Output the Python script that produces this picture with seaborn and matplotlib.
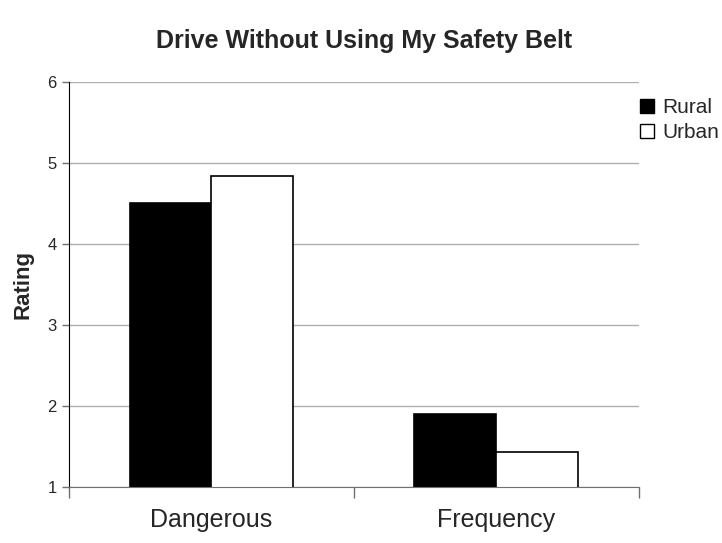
import matplotlib
matplotlib.use("Agg")
import matplotlib.pyplot as plt
import pandas as pd
import seaborn as sns
from matplotlib.patches import Patch

# values
categories = ["Dangerous", "Frequency"]
groups = ["Rural", "Urban"]
rural = [4.50, 1.90]
urban = [4.84, 1.43]
y_ticks = [1, 2, 3, 4, 5, 6]

df = pd.DataFrame({
    "category": categories * 2,
    "group": [groups[0]] * 2 + [groups[1]] * 2,
    "rating": rural + urban,
})

sns.set_style("white")
plt.rcParams["font.family"] = ["Liberation Sans", "DejaVu Sans"]

fig = plt.figure(figsize=(7.22, 5.43), dpi=100)
ax = fig.add_axes([0.0956, 0.104, 0.789, 0.745])

sns.barplot(data=df, x="category", y="rating", hue="group",
            palette={"Rural": "black", "Urban": "white"},
            edgecolor="black", linewidth=1.2, width=0.575, ax=ax)
ax.set_ylim(1, 6)
ax.set_xlim(-0.5, 1.5)
ax.set_yticks(y_ticks)
ax.yaxis.grid(True, color="#b0b0b0", linewidth=1)
ax.set_axisbelow(True)

for side in ["top", "right"]:
    ax.spines[side].set_visible(False)
ax.spines["left"].set_color("black")
ax.spines["bottom"].set_color("#707070")

ax.tick_params(axis="y", which="major", left=True, length=5, width=1,
               color="#707070", labelsize=12, pad=4)
ax.tick_params(axis="x", which="major", bottom=False, labelsize=18, pad=12)
ax.set_xticks([-0.5, 0.5, 1.5], minor=True)
ax.tick_params(axis="x", which="minor", bottom=True, length=8, width=1,
               color="#707070")

ax.set_xlabel("")
ax.set_ylabel("Rating", fontsize=16, fontweight="bold", labelpad=10)

ax.get_legend().remove()
handles = [Patch(facecolor="black", edgecolor="black", label="Rural"),
           Patch(facecolor="white", edgecolor="black", label="Urban")]
fig.legend(handles=handles, loc="upper left", bbox_to_anchor=(0.875, 0.835),
           frameon=False, fontsize=15, handlelength=0.65, handleheight=0.65,
           handletextpad=0.4, labelspacing=0.3, borderaxespad=0)

fig.suptitle("Drive Without Using My Safety Belt", x=0.504, y=0.924,
             va="center", fontsize=18, fontweight="bold")

fig.savefig("out.png", dpi=100)
